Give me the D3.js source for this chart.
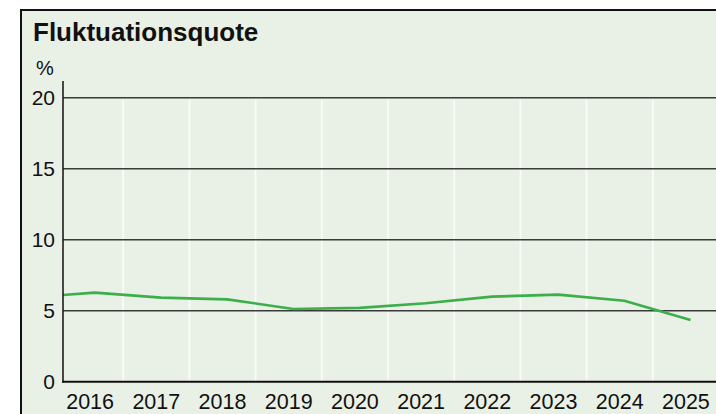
<!DOCTYPE html>
<html>
<head>
<meta charset="utf-8">
<script src="https://cdn.jsdelivr.net/npm/d3@7"></script>
<style>
  html, body { margin: 0; padding: 0; background: #fff; }
  svg { display: block; }
</style>
</head>
<body>
<svg id="chart"></svg>
<script>
const width = 716;
const height = 414;

// data (annual values, %)
const years = [2015, 2016, 2017, 2018, 2019, 2020, 2021, 2022, 2023, 2024, 2025];
const values = [5.93, 6.27, 5.92, 5.80, 5.12, 5.20, 5.52, 5.99, 6.13, 5.70, 4.35];
const yearLabels = [2016, 2017, 2018, 2019, 2020, 2021, 2022, 2023, 2024, 2025];
const yTicks = [0, 5, 10, 15, 20];

const title = "Fluktuationsquote";
const unit = "%";

const green = "#3cae4a";
const bg = "#e9f0e6";

const svg = d3.select("#chart")
  .attr("width", width)
  .attr("height", height);

// framed panel, runs off the right and bottom edge
svg.append("rect")
  .attr("x", 21).attr("y", 10)
  .attr("width", width).attr("height", height)
  .attr("fill", bg)
  .attr("stroke", "#111")
  .attr("stroke-width", 2);

const plotLeft = 63;
const x = d3.scaleLinear().domain([2016, 2026]).range([57, 719]);
const y = d3.scaleLinear().domain([0, 20]).range([381.7, 97.7]);

svg.append("defs").append("clipPath").attr("id", "plot")
  .append("rect")
  .attr("x", plotLeft).attr("y", 0)
  .attr("width", width - plotLeft).attr("height", height);

// white vertical separators between years
svg.append("g")
  .selectAll("line")
  .data(yearLabels.slice(1))
  .join("line")
  .attr("x1", d => x(d)).attr("x2", d => x(d))
  .attr("y1", y(20) + 2).attr("y2", y(0))
  .attr("stroke", "#fafcf9")
  .attr("stroke-width", 1.6);

// horizontal grid
svg.append("g")
  .selectAll("line")
  .data(yTicks.filter(d => d > 0))
  .join("line")
  .attr("x1", plotLeft).attr("x2", width)
  .attr("y1", d => y(d)).attr("y2", d => y(d))
  .attr("stroke", "#3a3a3a")
  .attr("stroke-width", 1.5);

// data line
const line = d3.line()
  .x((d, i) => x(years[i] + 0.57))
  .y(d => y(d));

svg.append("path")
  .datum(values)
  .attr("clip-path", "url(#plot)")
  .attr("d", line)
  .attr("fill", "none")
  .attr("stroke", green)
  .attr("stroke-width", 2.6)
  .attr("stroke-linejoin", "round");

// axes
svg.append("line")
  .attr("x1", plotLeft).attr("x2", plotLeft)
  .attr("y1", 81).attr("y2", y(0) + 1)
  .attr("stroke", "#111").attr("stroke-width", 1.5);

svg.append("line")
  .attr("x1", plotLeft - 0.75).attr("x2", width)
  .attr("y1", y(0)).attr("y2", y(0))
  .attr("stroke", "#111").attr("stroke-width", 2);

const font = "'Liberation Sans', Arial, sans-serif";

svg.append("g")
  .selectAll("text")
  .data(yTicks)
  .join("text")
  .attr("x", 55)
  .attr("y", d => y(d) + 7.5)
  .attr("text-anchor", "end")
  .attr("font-family", font)
  .attr("font-size", 21)
  .attr("fill", "#111")
  .text(d => d);

svg.append("g")
  .selectAll("text")
  .data(yearLabels)
  .join("text")
  .attr("x", d => x(d + 0.5))
  .attr("y", 409)
  .attr("text-anchor", "middle")
  .attr("font-family", font)
  .attr("font-size", 21.5)
  .attr("fill", "#111")
  .text(d => d);

svg.append("text")
  .attr("x", 33).attr("y", 41)
  .attr("font-family", font)
  .attr("font-weight", "bold")
  .attr("font-size", 26)
  .attr("fill", "#111")
  .text(title);

svg.append("text")
  .attr("x", 36).attr("y", 75)
  .attr("font-family", font)
  .attr("font-size", 20)
  .attr("fill", "#111")
  .text(unit);
</script>
</body>
</html>
